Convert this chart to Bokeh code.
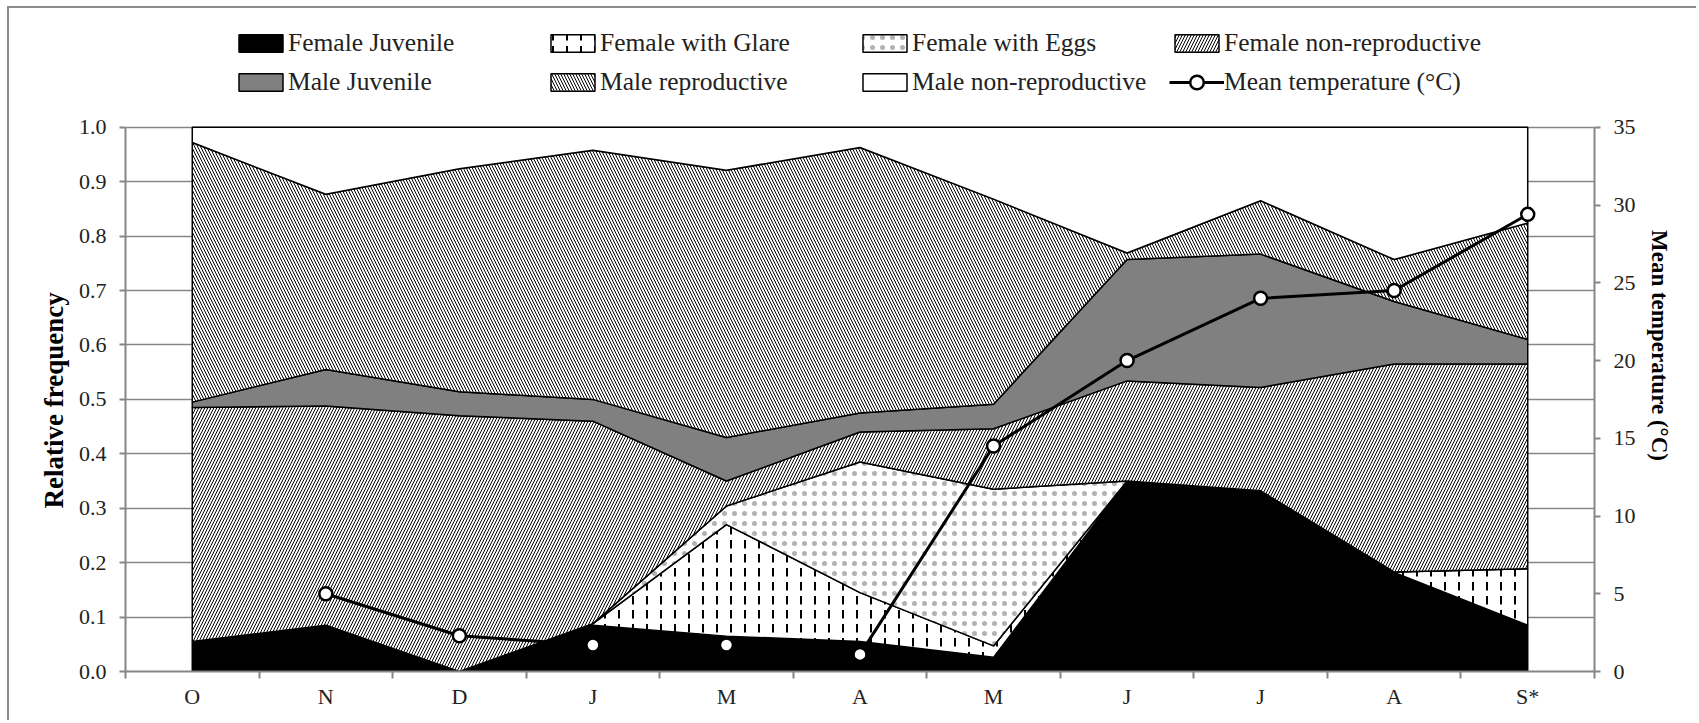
import math
from bokeh.plotting import figure
from bokeh.models import (Range1d, LinearAxis, FixedTicker, Legend, LegendItem,
                          NumeralTickFormatter, Title)
from bokeh.embed import file_html
from bokeh.resources import INLINE

# ---------------- data ----------------
months = ["O", "N", "D", "J", "M", "A", "M", "J", "J", "A", "S*"]
female_juvenile = [0.055, 0.085, 0.0, 0.085, 0.065, 0.055, 0.026, 0.350, 0.332, 0.182, 0.085]
female_glare = [0.0, 0.0, 0.0, 0.003, 0.205, 0.090, 0.021, 0.0, 0.0, 0.001, 0.104]
female_eggs = [0.0, 0.0, 0.0, 0.0, 0.034, 0.240, 0.288, 0.0, 0.0, 0.0, 0.0]
female_nonrepro = [0.430, 0.403, 0.470, 0.372, 0.046, 0.055, 0.111, 0.184, 0.190, 0.382, 0.376]
male_juvenile = [0.010, 0.067, 0.044, 0.040, 0.080, 0.035, 0.045, 0.223, 0.245, 0.115, 0.045]
male_repro = [0.477, 0.322, 0.410, 0.458, 0.491, 0.488, 0.377, 0.012, 0.098, 0.077, 0.214]
male_nonrepro = [0.028, 0.123, 0.076, 0.042, 0.079, 0.037, 0.132, 0.231, 0.135, 0.243, 0.176]
temperature = [None, 5.0, 2.3, 1.7, 1.7, 1.1, 14.5, 20.0, 24.0, 24.5, 29.4]

left_ticks = [round(i * 0.1, 1) for i in range(11)]
right_ticks = [0, 5, 10, 15, 20, 25, 30, 35]

FONT = "Liberation Serif"
GREY = "#868686"

# layout: the frame reaches up to hold the legend; axes are bounded to the data part
W, H = 1689, 714
TOP, BOTTOM = 11, 51
FRAME_H = H - TOP - BOTTOM
PX_PER_UNIT = 544.2
Y_MAX = FRAME_H / PX_PER_UNIT

p = figure(width=W, height=H, output_backend="svg", toolbar_location=None,
           x_range=Range1d(-0.5, 10.5), y_range=Range1d(0, Y_MAX),
           min_border_left=116, min_border_right=104, min_border_top=TOP,
           min_border_bottom=BOTTOM, background_fill_color="white",
           border_fill_color="white")
p.styles = {"margin-left": "7px", "margin-top": "6px",
            "border-left": "2px solid #8c8c8c", "border-top": "2px solid #8c8c8c"}
p.outline_line_color = None
p.extra_y_ranges = {"temp": Range1d(0, 35 * Y_MAX)}

x = list(range(len(months)))

series = [
    ("Female Juvenile", female_juvenile, dict(fill_color="black")),
    ("Female with Glare", female_glare, dict(fill_color="white", hatch_pattern="vertical_dash",
                                             hatch_color="black", hatch_scale=14, hatch_weight=2)),
    ("Female with Eggs", female_eggs, dict(fill_color="white", hatch_pattern="dot",
                                           hatch_color="black", hatch_scale=10, hatch_alpha=0.3)),
    ("Female non-reproductive", female_nonrepro, dict(fill_color="white", hatch_pattern="right_diagonal_line",
                                                      hatch_color="black", hatch_scale=6, hatch_weight=1)),
    ("Male Juvenile", male_juvenile, dict(fill_color="#808080")),
    ("Male reproductive", male_repro, dict(fill_color="white", hatch_pattern="left_diagonal_line",
                                           hatch_color="black", hatch_scale=6, hatch_weight=1)),
    ("Male non-reproductive", male_nonrepro, dict(fill_color="white")),
]

p.ygrid.ticker = FixedTicker(ticks=left_ticks)
p.ygrid.grid_line_color = GREY
p.ygrid.grid_line_width = 1.5
p.xgrid.grid_line_color = None

renderers = {}
bottom = [0.0] * len(x)
for name, vals, style in series:
    top = [b + v for b, v in zip(bottom, vals)]
    xs = x + x[::-1]
    ys = top + bottom[::-1]
    r = p.patch(xs, ys, line_color="black", line_width=1.5, **style)
    renderers[name] = r
    bottom = top

tx = [xi for xi, t in zip(x, temperature) if t is not None]
ty = [t for t in temperature if t is not None]
rl = p.line(tx, ty, y_range_name="temp", line_color="black", line_width=3)
rs = p.scatter(tx, ty, y_range_name="temp", marker="circle", size=13,
               fill_color="white", line_color="black", line_width=2.5)

# ---------------- axes ----------------
xa = p.xaxis[0]
xa.ticker = FixedTicker(ticks=x, minor_ticks=[i - 0.5 for i in range(len(x) + 1)])
xa.major_label_overrides = {i: m for i, m in enumerate(months)}
xa.major_tick_out = 0
xa.major_tick_in = 0
xa.minor_tick_out = 7
xa.minor_tick_in = 0
xa.minor_tick_line_color = GREY
xa.minor_tick_line_width = 2
xa.axis_line_color = GREY
xa.axis_line_width = 2
xa.major_label_standoff = 5
xa.major_label_text_font = FONT
xa.major_label_text_font_size = "22px"
xa.major_label_text_color = "#222222"

ya = p.yaxis[0]
ya.ticker = FixedTicker(ticks=left_ticks)
ya.bounds = (0, 1)
ya.formatter = NumeralTickFormatter(format="0.0")
ya.minor_tick_line_color = None
ya.major_tick_out = 6
ya.major_tick_in = 0
ya.major_tick_line_color = GREY
ya.major_tick_line_width = 2
ya.axis_line_color = GREY
ya.axis_line_width = 2
ya.major_label_standoff = 13
ya.major_label_text_font = FONT
ya.major_label_text_font_size = "22px"
ya.major_label_text_color = "#222222"

left_title = Title(text="Relative frequency", align="left", offset=163,
                   text_font=FONT, text_font_style="bold", text_font_size="27px",
                   text_color="black", standoff=13)
p.add_layout(left_title, "left")

ra = LinearAxis(y_range_name="temp", ticker=FixedTicker(ticks=right_ticks),
                bounds=(0, 35), axis_label="Mean temperature (°C)")
ra.minor_tick_line_color = None
ra.major_tick_out = 6
ra.major_tick_in = 0
ra.major_tick_line_color = GREY
ra.major_tick_line_width = 2
ra.axis_line_color = GREY
ra.axis_line_width = 2
ra.major_label_standoff = 13
ra.major_label_text_font = FONT
ra.major_label_text_font_size = "22px"
ra.major_label_text_color = "#222222"
ra.axis_label_text_font = FONT
ra.axis_label_text_font_style = "bold"
ra.axis_label_text_font_size = "23px"
ra.axis_label_text_color = "black"
ra.axis_label_standoff = 8
ra.axis_label_orientation = "vertical"
p.add_layout(ra, "right")

# ---------------- legend (2 rows x 4 columns, inside the top of the frame) ----------------
legend_style = dict(glyph_width=55, label_standoff=0, spacing=7, label_width=250,
                    padding=0, margin=0, border_line_alpha=0, background_fill_alpha=0,
                    label_text_font=FONT, label_text_font_size="25.5px",
                    label_text_color="#222222")
legend_order = [
    ("Female Juvenile", [renderers["Female Juvenile"]]),
    ("Female with Glare", [renderers["Female with Glare"]]),
    ("Female with Eggs", [renderers["Female with Eggs"]]),
    ("Female non-reproductive", [renderers["Female non-reproductive"]]),
    ("Male Juvenile", [renderers["Male Juvenile"]]),
    ("Male reproductive", [renderers["Male reproductive"]]),
    ("Male non-reproductive", [renderers["Male non-reproductive"]]),
]
leg = Legend(items=[LegendItem(label=lab, renderers=rr) for lab, rr in legend_order],
             location=(108, 573), orientation="horizontal", ncols=4,
             glyph_height=22, label_height=32, **legend_style)
p.add_layout(leg)

# temperature entry: taller glyph box so that the marker keeps its size
leg_t = Legend(items=[LegendItem(label="Mean temperature (°C)", renderers=[rl, rs])],
               location=(108 + 3 * (55 + 250 + 7), 572), orientation="vertical",
               glyph_height=34, label_height=34, **legend_style)
p.add_layout(leg_t)

open("out.html", "w").write(file_html(p, INLINE))
